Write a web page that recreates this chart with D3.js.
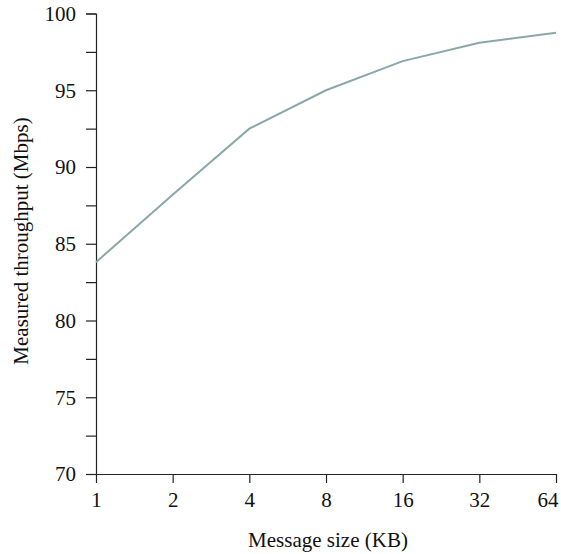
<!DOCTYPE html>
<html><head><meta charset="utf-8">
<script src="https://cdn.jsdelivr.net/npm/d3@7"></script>
<style>body{margin:0;background:#fff}svg text{font-family:"Liberation Serif",serif;fill:#111}</style>
</head><body><svg id="c" width="561" height="554"></svg>
<script>
const sizes = [1, 2, 4, 8, 16, 32, 64];
const throughput = [83.8, 88.2, 92.5, 95.0, 96.9, 98.1, 98.75];
const yTicks = [70, 75, 80, 85, 90, 95, 100];
const yMinor = [72.5, 77.5, 82.5, 87.5, 92.5, 97.5];

const svg = d3.select("#c");
const x = d3.scaleLog().base(2).domain([1, 64]).range([96, 556]);
const y = d3.scaleLinear().domain([70, 100]).range([474, 13.5]);

const yAxis = svg.append("g").attr("transform", "translate(96,0)")
  .call(d3.axisLeft(y).tickValues(yTicks).tickFormat(d3.format("d")).tickSize(10).tickPadding(10));
svg.append("g").attr("transform", "translate(96,0)")
  .call(d3.axisLeft(y).tickValues(yMinor).tickFormat("").tickSize(10))
  .call(g => g.select(".domain").remove());
const xAxis = svg.append("g").attr("transform", "translate(0,474)")
  .call(d3.axisBottom(x).tickValues(sizes).tickFormat(d3.format("d")).tickSize(9).tickPadding(9));
xAxis.select(".domain").attr("d", "M86,0.5H556");
svg.selectAll(".domain").attr("stroke", "#222").attr("stroke-width", 1.2);
svg.selectAll(".tick line").attr("stroke", "#222").attr("stroke-width", 1.2);
svg.selectAll(".tick text").style("font-size", "21px").attr("fill", "#111");
yAxis.selectAll(".tick text").attr("dy", "0.33em");
xAxis.selectAll(".tick text").filter(d => d === 64).attr("text-anchor", "end").attr("dx", "2");

svg.append("path").datum(sizes.map((s, i) => [s, throughput[i]]))
  .attr("fill", "none").attr("stroke", "#8aa8a8").attr("stroke-width", 2)
  .attr("d", d3.line().x(d => x(d[0])).y(d => y(d[1])));

svg.append("text").attr("x", 328).attr("y", 547).attr("text-anchor", "middle")
  .style("font-size", "21px").text("Message size (KB)");
svg.append("text").attr("transform", "translate(28,241) rotate(-90)").attr("text-anchor", "middle")
  .style("font-size", "21px").text("Measured throughput (Mbps)");
</script></body></html>
